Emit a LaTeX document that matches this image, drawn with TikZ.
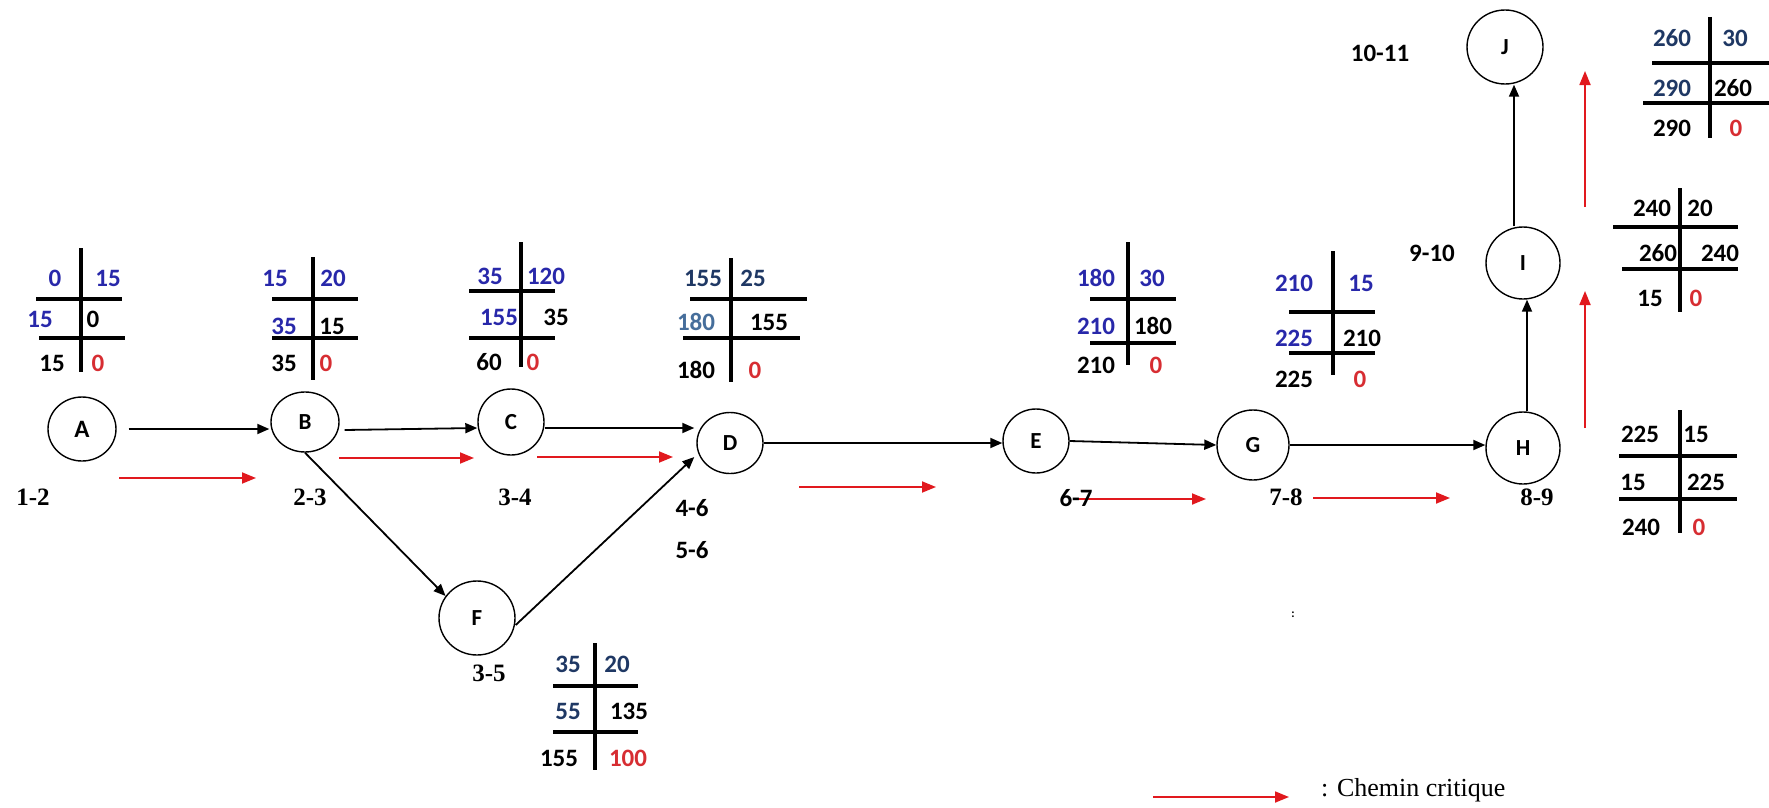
\documentclass[tikz,border=0pt]{standalone}
\usepackage{fontspec}
\setmainfont{Carlito}
\newfontfamily\serifb{Liberation Serif}
\usetikzlibrary{arrows.meta,shapes.geometric}
\definecolor{bp}{RGB}{40,40,170}
\definecolor{nv}{RGB}{31,56,100}
\definecolor{sb}{RGB}{70,110,155}
\definecolor{rz}{RGB}{215,45,50}
\definecolor{ra}{RGB}{225,25,30}
\begin{document}
\begin{tikzpicture}[x=1pt,y=-1pt,
 nd/.style={draw,ellipse,line width=1.4pt,inner sep=0pt,font=\bfseries\fontsize{23}{23}\selectfont},
 arr/.style={line width=1.8pt,-{Triangle[length=12pt,width=10pt]}},
 crit/.style={draw=ra,line width=1.8pt,-{Triangle[length=14pt,width=11pt]}},
 tl/.style={line width=3.5pt},
 num/.style={inner sep=0pt,font=\bfseries\fontsize{25}{25}\selectfont},
 lbs/.style={inner sep=0pt,font=\serifb\bfseries\fontsize{25}{25}\selectfont},
 lbc/.style={inner sep=0pt,font=\bfseries\fontsize{25}{25}\selectfont},
]
\fill[white] (0,0) rectangle (1769,808);
\useasboundingbox (0,0) rectangle (1769,808);

% ---------- event nodes ----------
\node[nd,minimum width=68pt,minimum height=64pt,font=\bfseries\fontsize{25}{25}\selectfont] (A) at (82,429) {A};
\node[nd,minimum width=68pt,minimum height=60pt] (B) at (305,422) {B};
\node[nd,minimum width=66pt,minimum height=66pt] (C) at (511,422) {C};
\node[nd,minimum width=66pt,minimum height=61pt] (D) at (730,443) {D};
\node[nd,minimum width=66pt,minimum height=64pt] (E) at (1036,441) {E};
\node[nd,minimum width=72pt,minimum height=70pt] (G) at (1253,445) {G};
\node[nd,minimum width=76pt,minimum height=74pt] (F) at (477,618) {F};
\node[nd,minimum width=74pt,minimum height=72pt] (H) at (1523,448) {H};
\node[nd,minimum width=74pt,minimum height=72pt] (I) at (1523,263) {I};
\node[nd,minimum width=76pt,minimum height=74pt] (J) at (1505,47) {J};

% ---------- activity arrows ----------
\draw[arr] ([xshift=12pt]A.east) -- ([shift={(-1pt,-7pt)}]B.west);
\draw[arr] ([shift={(5pt,-8pt)}]B.east) -- ([yshift=-6pt]C.west);
\draw[arr] ([yshift=-6pt]C.east) -- ([shift={(-2pt,15pt)}]D.west);
\draw[arr] (B.south) -- (F.145);
\draw[arr] ([yshift=-7pt]F.east) -- ([shift={(-2pt,-14pt)}]D.west);
\draw[arr] (D.east) -- (D.east -| E.west);
\draw[arr] (E.east) -- (G.west);
\draw[arr] (G.east) -- (G.east -| H.west);
\draw[arr] ([xshift=4pt]H.north) -- ([xshift=4pt]I.south);
\draw[arr] ([xshift=-9pt]I.north) -- ([xshift=9pt]J.south);

% ---------- critical path arrows ----------
\coordinate (r1s) at (119,478); \coordinate (r1e) at (256,478);
\coordinate (r2s) at (339,458); \coordinate (r2e) at (474,458);
\coordinate (r3s) at (537,457); \coordinate (r3e) at (673,457);
\coordinate (r4s) at (799,487); \coordinate (r4e) at (936,487);
\coordinate (r5s) at (1073,499); \coordinate (r5e) at (1206,499);
\coordinate (r6s) at (1313,498); \coordinate (r6e) at (1450,498);
\coordinate (r7s) at (1585,428); \coordinate (r7e) at (1585,291);
\coordinate (r8s) at (1585,207); \coordinate (r8e) at (1585,71);
\draw[crit] (r1s) -- (r1e);
\draw[crit] (r2s) -- (r2e);
\draw[crit] (r3s) -- (r3e);
\draw[crit] (r4s) -- (r4e);
\draw[crit] (r5s) -- (r5e);
\draw[crit] (r6s) -- (r6e);
\draw[crit] (r7s) -- (r7e);
\draw[crit] (r8s) -- (r8e);

% ---------- activity labels ----------
\node[lbs] (l12) at (33,497) {1-2};
\node[lbs] (l23) at (310,497) {2-3};
\node[lbs] (l34) at (515,497) {3-4};
\node[lbs] (l35) at (489,673) {3-5};
\node[lbs] (l78) at (1286,497) {7-8};
\node[lbs] (l89) at (1537,497) {8-9};
\node[lbc] (l46) at (692,508) {4-6};
\node[lbc] (l56) at (692,550) {5-6};
\node[lbc] (l67) at (1076,498) {6-7};
\node[lbc] (l910) at (1432,253) {9-10};
\node[lbc] (l1011) at (1380,53) {10-11};

% ---------- table A ----------
\draw[tl] (81,248) -- (81,372);
\draw[tl] (36,299) -- (122,299);
\draw[tl] (39,338) -- (125,338);
\node[num,text=bp] (ta1) at (55,278) {0};
\node[num,text=bp] (ta2) at (108,278) {15};
\node[num,text=bp] (ta3) at (40,319) {15};
\node[num] (ta4) at (93,319) {0};
\node[num] (ta5) at (52,363) {15};
\node[num,text=rz] (ta6) at (98,363) {0};

% ---------- table B ----------
\draw[tl] (313,257) -- (313,380);
\draw[tl] (272,299) -- (358,299);
\draw[tl] (272,338) -- (358,338);
\node[num,text=bp] (tb1) at (275,278) {15};
\node[num,text=bp] (tb2) at (333,278) {20};
\node[num,text=bp] (tb3) at (284,326) {35};
\node[num] (tb4) at (332,326) {15};
\node[num] (tb5) at (284,363) {35};
\node[num,text=rz] (tb6) at (326,363) {0};

% ---------- table C ----------
\draw[tl] (521,242) -- (521,367);
\draw[tl] (469,291) -- (555,291);
\draw[tl] (469,338) -- (555,338);
\node[num,text=bp] (tc1) at (490,276) {35};
\node[num,text=bp] (tc2) at (546,276) {120};
\node[num,text=bp] (tc3) at (499,317) {155};
\node[num] (tc4) at (556,317) {35};
\node[num] (tc5) at (489,362) {60};
\node[num,text=rz] (tc6) at (533,362) {0};

% ---------- table D ----------
\draw[tl] (731,258) -- (731,382);
\draw[tl] (690,299) -- (807,299);
\draw[tl] (683,338) -- (800,338);
\node[num,text=nv] (td1) at (703,278) {155};
\node[num,text=nv] (td2) at (753,278) {25};
\node[num,text=sb] (td3) at (696,322) {180};
\node[num] (td4) at (769,322) {155};
\node[num] (td5) at (696,370) {180};
\node[num,text=rz] (td6) at (755,370) {0};

% ---------- table E ----------
\draw[tl] (1128,242) -- (1128,365);
\draw[tl] (1090,299) -- (1176,299);
\draw[tl] (1090,343) -- (1176,343);
\node[num,text=bp] (te1) at (1096,278) {180};
\node[num,text=bp] (te2) at (1152,278) {30};
\node[num,text=bp] (te3) at (1096,326) {210};
\node[num] (te4) at (1153,326) {180};
\node[num] (te5) at (1096,365) {210};
\node[num,text=rz] (te6) at (1156,365) {0};

% ---------- table G ----------
\draw[tl] (1333,251) -- (1333,375);
\draw[tl] (1289,312) -- (1375,312);
\draw[tl] (1289,353) -- (1375,353);
\node[num,text=bp] (tg1) at (1294,283) {210};
\node[num,text=bp] (tg2) at (1361,283) {15};
\node[num,text=bp] (tg3) at (1294,338) {225};
\node[num] (tg4) at (1362,338) {210};
\node[num] (tg5) at (1294,379) {225};
\node[num,text=rz] (tg6) at (1360,379) {0};

% ---------- table F ----------
\draw[tl] (595,643) -- (595,770);
\draw[tl] (553,686) -- (638,686);
\draw[tl] (553,732) -- (638,732);
\node[num,text=nv] (tf1) at (568,664) {35};
\node[num,text=nv] (tf2) at (617,664) {20};
\node[num,text=nv] (tf3) at (568,711) {55};
\node[num] (tf4) at (629,711) {135};
\node[num] (tf5) at (559,758) {155};
\node[num,text=rz] (tf6) at (628,758) {100};

% ---------- table H ----------
\draw[tl] (1680,410) -- (1680,533);
\draw[tl] (1619,456) -- (1737,456);
\draw[tl] (1619,499) -- (1737,499);
\node[num] (th1) at (1640,434) {225};
\node[num] (th2) at (1696,434) {15};
\node[num] (th3) at (1633,482) {15};
\node[num] (th4) at (1706,482) {225};
\node[num] (th5) at (1641,527) {240};
\node[num,text=rz] (th6) at (1699,527) {0};

% ---------- table I ----------
\draw[tl] (1680,188) -- (1680,312);
\draw[tl] (1613,227) -- (1738,227);
\draw[tl] (1622,269) -- (1738,269);
\node[num] (ti1) at (1652,208) {240};
\node[num] (ti2) at (1700,208) {20};
\node[num] (ti3) at (1658,253) {260};
\node[num] (ti4) at (1720,253) {240};
\node[num] (ti5) at (1650,298) {15};
\node[num,text=rz] (ti6) at (1696,298) {0};

% ---------- table J ----------
\draw[tl] (1710,17) -- (1710,138);
\draw[tl] (1652,63) -- (1769,63);
\draw[tl] (1643,103) -- (1769,103);
\node[num,text=nv] (tj1) at (1672,38) {260};
\node[num,text=nv] (tj2) at (1735,38) {30};
\node[num,text=nv] (tj3) at (1672,88) {290};
\node[num] (tj4) at (1733,88) {260};
\node[num] (tj5) at (1672,128) {290};
\node[num,text=rz] (tj6) at (1736,128) {0};

% ---------- stray mark and legend ----------
\node[inner sep=0pt,font=\bfseries\fontsize{12}{12}\selectfont] (dots) at (1293,615) {:};
\coordinate (lgs) at (1153,797); \coordinate (lge) at (1289,797);
\draw[crit] (lgs) -- (lge);
\node[inner sep=0pt,anchor=west,font=\serifb\fontsize{26}{26}\selectfont] (lgt) at (1321,790) {: Chemin critique};
\end{tikzpicture}
\end{document}
